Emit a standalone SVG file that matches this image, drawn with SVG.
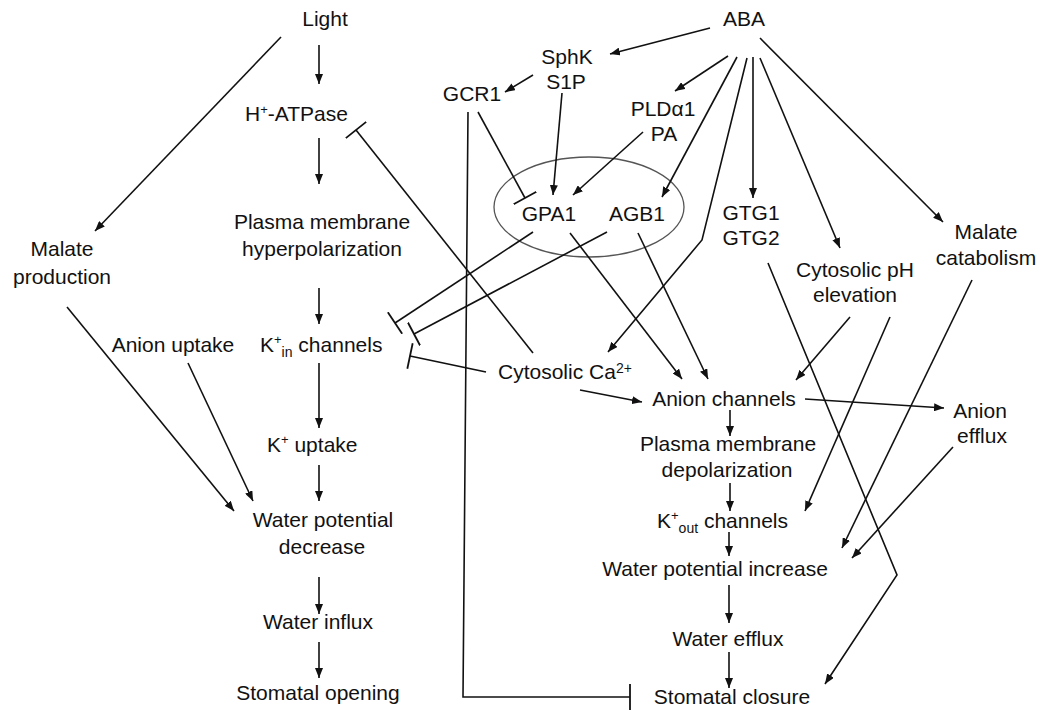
<svg xmlns="http://www.w3.org/2000/svg" width="1044" height="711" viewBox="0 0 1044 711">
<style>
text{font-family:"Liberation Sans",Arial,Helvetica,sans-serif;font-size:21px;fill:#111}
.c{text-anchor:middle}
.sup{font-size:13px}
.sub{font-size:14px}
#connectors line,#connectors path{stroke:#111;stroke-width:1.6;fill:none}
.a{marker-end:url(#arr)}
.t{marker-end:url(#bar)}
</style>
<defs>
<marker id="arr" viewBox="0 0 10 8" refX="10" refY="4" markerWidth="10" markerHeight="8" markerUnits="userSpaceOnUse" orient="auto"><path d="M0,0 L10,4 L0,8 z" fill="#111"/></marker>
<marker id="bar" viewBox="0 0 4 26" refX="2" refY="13" markerWidth="4" markerHeight="26" markerUnits="userSpaceOnUse" orient="auto"><line x1="2" y1="0" x2="2" y2="26" stroke="#111" stroke-width="1.8"/></marker>
</defs>
<rect width="1044" height="711" fill="#fff"/>

<g id="complex"><ellipse cx="589" cy="207" rx="95" ry="50" fill="none" stroke="#555" stroke-width="1.3"/></g>

<g id="connectors">
<line class="a" x1="319" y1="45" x2="319" y2="84"/>
<line class="a" x1="319" y1="138" x2="319" y2="184"/>
<line class="a" x1="319" y1="288" x2="319" y2="324"/>
<line class="a" x1="319" y1="363" x2="319" y2="428"/>
<line class="a" x1="319" y1="465" x2="319" y2="501"/>
<line class="a" x1="319" y1="577" x2="319" y2="614"/>
<line class="a" x1="319" y1="642" x2="319" y2="678"/>
<line class="a" x1="281" y1="37" x2="95" y2="231"/>
<line class="a" x1="67" y1="307" x2="234" y2="511"/>
<line class="a" x1="188" y1="363" x2="253" y2="501"/>
<line class="t" x1="533" y1="353" x2="356" y2="130"/>
<line class="t" x1="533" y1="232" x2="395" y2="323"/>
<line class="t" x1="607" y1="232" x2="414" y2="334"/>
<line class="t" x1="486" y1="372" x2="410" y2="356"/>
<line class="t" x1="478" y1="112" x2="525" y2="198"/>
<path class="t" d="M468,112 L463,697 L630,697"/>
<line class="a" x1="710" y1="28" x2="610" y2="54"/>
<line class="a" x1="533" y1="75" x2="505" y2="92"/>
<line class="a" x1="562" y1="93" x2="553" y2="195"/>
<line class="a" x1="728" y1="56" x2="675" y2="91"/>
<line class="a" x1="643" y1="132" x2="573" y2="195"/>
<line class="a" x1="737" y1="57" x2="662" y2="197"/>
<path class="a" d="M747,58 L702,240 L608,352"/>
<line class="a" x1="753" y1="57" x2="753" y2="198"/>
<line class="a" x1="760" y1="58" x2="840" y2="248"/>
<line class="a" x1="760" y1="38" x2="943" y2="222"/>
<line class="a" x1="570" y1="233" x2="682" y2="379"/>
<line class="a" x1="638" y1="233" x2="708" y2="379"/>
<line class="a" x1="580" y1="390" x2="642" y2="402"/>
<line class="a" x1="850" y1="317" x2="796" y2="380"/>
<line class="a" x1="890" y1="317" x2="805" y2="511"/>
<line class="a" x1="972" y1="280" x2="842" y2="548"/>
<line class="a" x1="805" y1="399" x2="944" y2="408"/>
<line class="a" x1="953" y1="447" x2="852" y2="558"/>
<line class="a" x1="730" y1="410" x2="730" y2="436"/>
<line class="a" x1="730" y1="483" x2="730" y2="511"/>
<line class="a" x1="729" y1="532" x2="729" y2="556"/>
<line class="a" x1="729" y1="585" x2="729" y2="623"/>
<line class="a" x1="729" y1="652" x2="729" y2="688"/>
<path class="a" d="M768,263 L897,575 L825,684"/>
</g>

<g id="n-light"><text class="c" x="325" y="26">Light</text></g>
<g id="n-hatpase"><text x="245" y="121">H<tspan class="sup" dy="-7">+</tspan><tspan dy="7">-ATPase</tspan></text></g>
<g id="n-hyperpol"><text class="c" x="322" y="229">Plasma membrane</text><text class="c" x="322" y="256">hyperpolarization</text></g>
<g id="n-malate-prod"><text class="c" x="62" y="256">Malate</text><text class="c" x="62" y="284">production</text></g>
<g id="n-anion-uptake"><text class="c" x="173" y="352">Anion uptake</text></g>
<g id="n-kin"><text x="260" y="352">K<tspan class="sup" dy="-8">+</tspan><tspan class="sub" dy="13">in</tspan><tspan dy="-5"> channels</tspan></text></g>
<g id="n-kuptake"><text x="267" y="452">K<tspan class="sup" dy="-8">+</tspan><tspan dy="8"> uptake</tspan></text></g>
<g id="n-wpd"><text class="c" x="323" y="527">Water potential</text><text class="c" x="322" y="554">decrease</text></g>
<g id="n-winflux"><text class="c" x="318" y="629">Water influx</text></g>
<g id="n-sopen"><text class="c" x="318" y="700">Stomatal opening</text></g>

<g id="n-aba"><text class="c" x="744" y="26">ABA</text></g>
<g id="n-sphk"><text class="c" x="567" y="64">SphK</text><text class="c" x="566" y="89">S1P</text></g>
<g id="n-gcr1"><text class="c" x="472" y="101">GCR1</text></g>
<g id="n-pld"><text class="c" x="663" y="116">PLDα1</text><text class="c" x="664" y="141">PA</text></g>
<g id="n-gpa1"><text class="c" x="549" y="221">GPA1</text></g>
<g id="n-agb1"><text class="c" x="637" y="221">AGB1</text></g>
<g id="n-gtg"><text class="c" x="751" y="220">GTG1</text><text class="c" x="751" y="245">GTG2</text></g>
<g id="n-ph"><text class="c" x="855" y="277">Cytosolic pH</text><text class="c" x="855" y="302">elevation</text></g>
<g id="n-malate-cat"><text class="c" x="986" y="239">Malate</text><text class="c" x="986" y="265">catabolism</text></g>
<g id="n-ca"><text x="498" y="379">Cytosolic Ca<tspan class="sub" dy="-6">2+</tspan></text></g>
<g id="n-anion-ch"><text class="c" x="724" y="406">Anion channels</text></g>
<g id="n-anion-efflux"><text class="c" x="980" y="418">Anion</text><text class="c" x="982" y="443">efflux</text></g>
<g id="n-depol"><text class="c" x="728" y="451">Plasma membrane</text><text class="c" x="727" y="477">depolarization</text></g>
<g id="n-kout"><text x="657" y="528">K<tspan class="sup" dy="-8">+</tspan><tspan class="sub" dy="13">out</tspan><tspan dy="-5"> channels</tspan></text></g>
<g id="n-wpi"><text class="c" x="715" y="576">Water potential increase</text></g>
<g id="n-wefflux"><text class="c" x="728" y="646">Water efflux</text></g>
<g id="n-sclose"><text class="c" x="732" y="704">Stomatal closure</text></g>
</svg>
